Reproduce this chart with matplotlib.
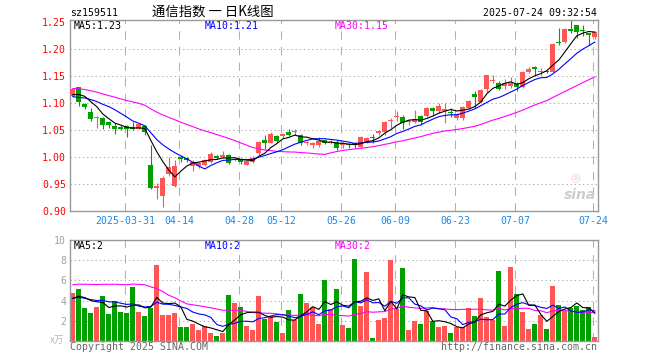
"""
Daily K line chart for sz159511 with volume panel, sina finance style.
"""
import numpy as np
import pandas as pd
import matplotlib
matplotlib.use("Agg")
import matplotlib.pyplot as plt

# ---------------------------------------------------------------------------
# Data (2025-03-18 .. 2025-07-24, 88 trading days)
# ---------------------------------------------------------------------------
opens = [1.113, 1.129, 1.098, 1.083, 1.071, 1.072, 1.064, 1.057, 1.055, 1.057,
         1.056, 1.052, 1.057, 0.985, 0.943, 0.928, 0.968, 0.946, 0.999, 0.997,
         0.983, 0.982, 0.984, 0.991, 1.002, 0.999, 1.003, 0.994, 0.994, 0.985,
         0.990, 1.007, 1.031, 1.026, 1.039, 1.039, 1.046, 1.045, 1.040, 1.025,
         1.021, 1.021, 1.031, 1.026, 1.028, 1.021, 1.024, 1.025, 1.018, 1.028,
         1.036, 1.044, 1.045, 1.066, 1.073, 1.074, 1.064, 1.065, 1.076, 1.075,
         1.090, 1.084, 1.084, 1.083, 1.071, 1.071, 1.090, 1.116, 1.101, 1.126,
         1.141, 1.136, 1.131, 1.131, 1.135, 1.130, 1.157, 1.167, 1.157, 1.159,
         1.158, 1.212, 1.212, 1.237, 1.244, 1.235, 1.229, 1.222]
highs = [1.128, 1.130, 1.099, 1.091, 1.075, 1.073, 1.067, 1.062, 1.058, 1.058,
         1.064, 1.063, 1.058, 1.021, 0.951, 0.965, 0.999, 0.994, 1.002, 0.999,
         0.994, 0.990, 0.996, 1.008, 1.003, 1.010, 1.006, 0.998, 0.997, 0.994,
         1.002, 1.029, 1.040, 1.045, 1.040, 1.044, 1.052, 1.052, 1.042, 1.030,
         1.028, 1.036, 1.033, 1.031, 1.031, 1.027, 1.025, 1.028, 1.039, 1.037,
         1.042, 1.050, 1.066, 1.071, 1.085, 1.078, 1.070, 1.087, 1.078, 1.093,
         1.092, 1.100, 1.100, 1.090, 1.081, 1.094, 1.106, 1.121, 1.126, 1.152,
         1.152, 1.140, 1.145, 1.147, 1.139, 1.159, 1.167, 1.169, 1.164, 1.161,
         1.210, 1.238, 1.238, 1.254, 1.245, 1.244, 1.229, 1.233]
lows = [1.110, 1.095, 1.088, 1.067, 1.054, 1.052, 1.054, 1.043, 1.049, 1.036,
        1.050, 1.051, 1.040, 0.940, 0.922, 0.906, 0.965, 0.944, 0.990, 0.990,
        0.974, 0.980, 0.982, 0.989, 0.995, 0.997, 0.986, 0.992, 0.987, 0.984,
        0.988, 1.004, 1.014, 1.025, 1.027, 1.035, 1.038, 1.040, 1.022, 1.022,
        1.016, 1.019, 1.024, 1.024, 1.013, 1.017, 1.016, 1.016, 1.016, 1.026,
        1.026, 1.041, 1.040, 1.054, 1.066, 1.052, 1.058, 1.062, 1.059, 1.073,
        1.078, 1.082, 1.062, 1.073, 1.068, 1.069, 1.088, 1.090, 1.099, 1.120,
        1.136, 1.123, 1.126, 1.128, 1.121, 1.128, 1.155, 1.149, 1.152, 1.155,
        1.157, 1.208, 1.210, 1.229, 1.220, 1.224, 1.208, 1.218]
closes = [1.126, 1.101, 1.093, 1.070, 1.074, 1.058, 1.058, 1.052, 1.052, 1.052,
          1.052, 1.060, 1.046, 0.942, 0.946, 0.961, 0.981, 0.983, 0.995, 0.994,
          0.990, 0.988, 0.994, 1.006, 0.997, 1.004, 0.988, 0.996, 0.990, 0.992,
          0.998, 1.028, 1.025, 1.042, 1.029, 1.042, 1.041, 1.047, 1.025, 1.027,
          1.026, 1.030, 1.026, 1.028, 1.016, 1.025, 1.022, 1.021, 1.037, 1.035,
          1.034, 1.048, 1.065, 1.069, 1.076, 1.062, 1.067, 1.070, 1.065, 1.091,
          1.084, 1.094, 1.088, 1.081, 1.077, 1.092, 1.104, 1.111, 1.124, 1.152,
          1.143, 1.126, 1.136, 1.137, 1.130, 1.158, 1.162, 1.163, 1.158, 1.157,
          1.209, 1.210, 1.237, 1.234, 1.231, 1.234, 1.225, 1.231]
volumes = [4.8, 5.17, 3.27, 2.77, 3.37, 4.47, 2.67, 3.97, 2.87, 2.77,
           5.37, 2.87, 2.47, 3.27, 7.57, 2.57, 2.57, 2.77, 1.37, 1.37,
           1.67, 1.07, 1.47, 0.77, 0.47, 0.77, 4.57, 3.77, 3.37, 1.47,
           1.07, 4.47, 2.17, 2.47, 1.87, 0.77, 3.07, 2.1, 4.65, 3.8,
           3.33, 1.7, 6.0, 3.2, 5.17, 1.57, 1.27, 8.17, 3.47, 6.87,
           0.27, 2.07, 2.27, 8.07, 3.2, 7.2, 1.07, 1.97, 1.67, 2.97,
           1.97, 1.37, 1.47, 0.77, 1.4, 1.4, 3.3, 2.5, 4.3, 2.4,
           2.1, 6.9, 1.5, 7.3, 4.7, 2.9, 1.2, 1.7, 2.6, 1.2,
           5.4, 3.6, 3.0, 3.3, 3.5, 3.1, 3.4, 0.4]

# the 29 sessions before the window, estimated from where the MA lines start
pre_closes = [1.12, 1.13, 1.14, 1.15, 1.16, 1.15, 1.14, 1.15, 1.14, 1.13,
              1.14, 1.15, 1.14, 1.13, 1.12, 1.11, 1.12, 1.13, 1.12, 1.11,
              1.12, 1.10, 1.10, 1.11, 1.11, 1.10, 1.11, 1.12, 1.12]
pre_volumes = [3.2, 3.8, 3.0, 4.1, 3.5, 2.9, 3.6, 3.9, 3.3, 3.4,
               3.7, 3.7, 9.5, 12.8, 11.4, 13.6, 10.2, 11.0, 10.0, 4.5,
               3.9, 4.4, 4.0, 4.3, 4.3, 4.2, 3.9, 4.3, 3.95]

tick_idx = [9, 18, 28, 35, 45, 54, 64, 74, 87]
tick_labels = ["2025-03-31", "04-14", "04-28", "05-12", "05-26",
               "06-09", "06-23", "07-07", "07-24"]
price_ticks = [0.90, 0.95, 1.00, 1.05, 1.10, 1.15, 1.20, 1.25]
vol_ticks = [2, 4, 6, 8, 10]

RED = "#ff5555"
GREEN = "#00a000"
GRID = "#b0b0b0"
FRAME = "#999999"
MONO = "DejaVu Sans Mono"
FS = 7.1
LW = 0.8
W, H = 660, 360


def px(x, y):
    return x / W, 1 - y / H


def moving(pre, cur, n):
    s = pd.Series(list(pre) + list(cur)).rolling(n).mean()
    return s.to_numpy()[len(pre):]


def style_axes(ax):
    for sp in ax.spines.values():
        sp.set_color(FRAME)
        sp.set_linewidth(1)
    for i in tick_idx:
        ax.axvline(i - 0.3, color=GRID, lw=0.75, dashes=(8, 7), zorder=0)
    ax.tick_params(length=0)


o = np.array(opens); h = np.array(highs); l = np.array(lows); c = np.array(closes)
v = np.array(volumes)
x = np.arange(len(c))
col = np.where(c >= o, RED, GREEN)

fig = plt.figure(figsize=(W / 100, H / 100), dpi=100)
ax = fig.add_axes([70.3 / W, 1 - 210.7 / H, 527.4 / W, 190.7 / H])
axv = fig.add_axes([70.3 / W, 1 - 340.7 / H, 527.4 / W, 100.4 / H])

# ---------------------------------------------------------------------------
# price panel
# ---------------------------------------------------------------------------
style_axes(ax)
for p in price_ticks[1:-1]:
    ax.axhline(p, color=GRID, lw=0.75, dashes=(1.3, 2.7), zorder=0)
ax.vlines(x, l, h, colors=col, lw=LW, zorder=2)
ax.bar(x, np.maximum(np.abs(c - o), 0.0012), bottom=np.minimum(o, c),
       width=0.82, color=col, linewidth=0, zorder=3)
ax.plot(x, moving(pre_closes, c, 30), color="#ff00ff", lw=LW, zorder=4)
ax.plot(x, moving(pre_closes, c, 10), color="#0000ff", lw=LW, zorder=4)
ax.plot(x, moving(pre_closes, c, 5), color="black", lw=LW, zorder=4)
ax.set_xlim(-0.42, 87.48)
ax.set_ylim(0.90, 1.2535)
ax.set_yticks(price_ticks)
ax.set_yticklabels([f"{p:.2f}" for p in price_ticks], color="red",
                   family=MONO, fontsize=FS)
ax.set_xticks([i - 0.3 for i in tick_idx])
ax.set_xticklabels(tick_labels, color="#1a88e8", family=MONO, fontsize=FS)
ax.tick_params(axis="y", pad=3)
ax.tick_params(axis="x", pad=4)
ax.text(0.935, 0.045, "sina", transform=ax.transAxes, color="#cccccc",
        fontsize=10, style="italic", fontweight="bold", ha="left", va="bottom")
ax.text(0.958, 0.15, "◎", transform=ax.transAxes, color="#f4c4c4",
        fontsize=8, ha="center", va="bottom")

# ---------------------------------------------------------------------------
# volume panel
# ---------------------------------------------------------------------------
style_axes(axv)
for t in vol_ticks[:-1]:
    axv.axhline(t, color=GRID, lw=0.75, dashes=(1.3, 2.7), zorder=0)
axv.bar(x, v, width=0.82, color=col, linewidth=0, zorder=2)
axv.plot(x, moving(pre_volumes, v, 30), color="#ff00ff", lw=LW, zorder=3)
axv.plot(x, moving(pre_volumes, v, 10), color="#0000ff", lw=LW, zorder=3)
axv.plot(x, moving(pre_volumes, v, 5), color="black", lw=LW, zorder=3)
axv.set_xlim(-0.42, 87.48)
axv.set_ylim(0, 10)
axv.set_xticks([])
axv.set_yticks(vol_ticks)
axv.set_yticklabels([str(t) for t in vol_ticks], color="#a0a0a0",
                    family=MONO, fontsize=FS)
axv.tick_params(axis="y", pad=3)

# ---------------------------------------------------------------------------
# header, legends, footer
# ---------------------------------------------------------------------------
fig.text(*px(70, 13), "sz159511", family=MONO, fontsize=FS, va="center")
fig.text(*px(213, 12), "通信指数 一 日K线图", fontsize=9.6, ha="center",
         va="center", family=["Noto Sans CJK SC", "DejaVu Sans"])
fig.text(*px(597, 13), "2025-07-24 09:32:54", family=MONO, fontsize=FS,
         ha="right", va="center")

for (xx, yy, s, cc) in [(74, 26, "MA5:1.23", "black"), (204.5, 26, "MA10:1.21", "#0000ff"),
                        (334.5, 26, "MA30:1.15", "#ff00ff"), (74, 246, "MA5:2", "black"),
                        (204.5, 246, "MA10:2", "#0000ff"), (334.5, 246, "MA30:2", "#ff00ff")]:
    fig.text(*px(xx, yy), s, color=cc, family=MONO, fontsize=FS, va="center")

fig.text(*px(57, 340), "x万", color="#b8b8b8", fontsize=7, ha="center", va="center",
         family=["Noto Sans CJK SC", "DejaVu Sans"])
fig.text(*px(70, 347), "Copyright 2025 SINA.COM", color="#666666", family=MONO,
         fontsize=FS, va="center")
fig.text(*px(597, 347), "http://finance.sina.com.cn", color="#666666", family=MONO,
         fontsize=FS, ha="right", va="center")

fig.savefig("out.png", dpi=100)
